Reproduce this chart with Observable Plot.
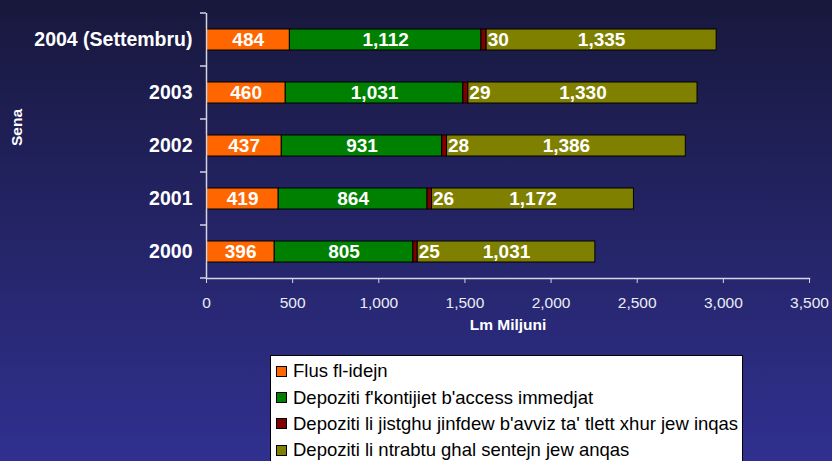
<!DOCTYPE html>
<html><head><meta charset="utf-8">
<script src="https://cdn.jsdelivr.net/npm/d3@7"></script>
<script src="https://cdn.jsdelivr.net/npm/@observablehq/plot@0.6"></script>
<style>
html,body{margin:0;padding:0;overflow:hidden;}
body{width:832px;height:461px;background:linear-gradient(to bottom,#18183d 0%,#303090 100%);font-family:"Liberation Sans",Arial,sans-serif;}
#chart svg{display:block;}
#legend{margin:5px 0 0 270px;width:471px;background:#fff;border:1px solid #000;padding:2px 0 6px 0;}
.item{display:flex;align-items:center;height:26.4px;font-size:18.5px;color:#000;padding-left:5px;white-space:nowrap;}
.sw{width:9px;height:9px;border:1px solid #000;margin-right:6px;flex:none;}
</style></head><body>
<div id="chart"></div><div id="legend"></div>
<script>
const years = ["2004 (Settembru)", "2003", "2002", "2001", "2000"];
const series = [
  "Flus fl-idejn",
  "Depoziti f'kontijiet b'access immedjat",
  "Depoziti li jistghu jinfdew b'avviz ta' tlett xhur jew inqas",
  "Depoziti li ntrabtu ghal sentejn jew anqas"
];
const colors = ["#ff6600", "#008000", "#800000", "#808000"];
const cash = [484, 460, 437, 419, 396];
const immediate = [1112, 1031, 931, 864, 805];
const notice = [30, 29, 28, 26, 25];
const fixed = [1335, 1330, 1386, 1172, 1031];
const xTicks = [0, 500, 1000, 1500, 2000, 2500, 3000, 3500];
const xTitle = "Lm Miljuni";
const yTitle = "Sena";

const seriesValues = [cash, immediate, notice, fixed];
const rows = [];
years.forEach((y, i) => series.forEach((s, j) => rows.push({year: y, series: s, value: seriesValues[j][i]})));

const fmt = d3.format(",");
const axisColor = "#d4d4e4";
const font = "Liberation Sans, Arial, sans-serif";

const plot = Plot.plot({
  width: 832, height: 350,
  marginLeft: 206, marginRight: 23, marginTop: 13, marginBottom: 72,
  style: {background: "transparent", fontFamily: font, overflow: "visible"},
  x: {domain: [0, 3500]},
  y: {domain: years, paddingInner: 0.6, paddingOuter: 0.3},
  color: {domain: series, range: colors},
  marks: [
    Plot.barX(rows, Plot.stackX({x: "value", y: "year", z: "series", fill: "series", stroke: "#000", strokeWidth: 1})),
    Plot.text(rows, Plot.filter(d => d.series !== series[2],
      Plot.stackX({x: "value", y: "year", z: "series", text: d => fmt(d.value), fill: "white", fontSize: 19, fontWeight: "bold"}))),
    Plot.text(rows, Plot.filter(d => d.series === series[2],
      Plot.stackX2({x: "value", y: "year", z: "series", text: d => fmt(d.value), fill: "white", fontSize: 19, fontWeight: "bold", textAnchor: "start", dx: 1}))),
    Plot.ruleX([0], {stroke: axisColor, strokeWidth: 1.5}),
    Plot.frame({anchor: "bottom", stroke: axisColor, strokeWidth: 1.5}),
    Plot.axisX(xTicks, {tickSize: 5, tickPadding: 13, stroke: axisColor, fill: "#ececf5", fontSize: 15.5, label: null, tickFormat: fmt}),
    Plot.axisY({tickSize: 0, tickPadding: 14, fontSize: 19.5, fontWeight: "bold", fill: "white", label: null}),
    Plot.text([xTitle], {frameAnchor: "bottom", dy: 51, fontWeight: "bold", fontSize: 15.5, fill: "white"}),
    Plot.text([yTitle], {frameAnchor: "left", dx: -189, rotate: -90, fontWeight: "bold", fontSize: 15.5, fill: "white"})
  ]
});

// y-axis tick marks at category boundaries (from the plot's own band scale)
const ys = plot.scale("y");
const xs = plot.scale("x");
const half = (ys.step - ys.bandwidth) / 2;
const bounds = years.map(y => ys.apply(y) - half);
bounds.push(ys.apply(years[years.length - 1]) + ys.bandwidth + half);
const x0 = xs.apply(0);
const g = d3.select(plot).append("g").attr("stroke", axisColor).attr("stroke-width", 1.5);
bounds.forEach(b => g.append("line").attr("x1", x0 - 6).attr("x2", x0).attr("y1", b).attr("y2", b));

document.getElementById("chart").appendChild(plot);

const legend = document.getElementById("legend");
series.forEach((s, j) => {
  const item = document.createElement("div");
  item.className = "item";
  const sw = document.createElement("span");
  sw.className = "sw";
  sw.style.background = colors[j];
  item.appendChild(sw);
  item.appendChild(document.createTextNode(s));
  legend.appendChild(item);
});
</script>
</body></html>
